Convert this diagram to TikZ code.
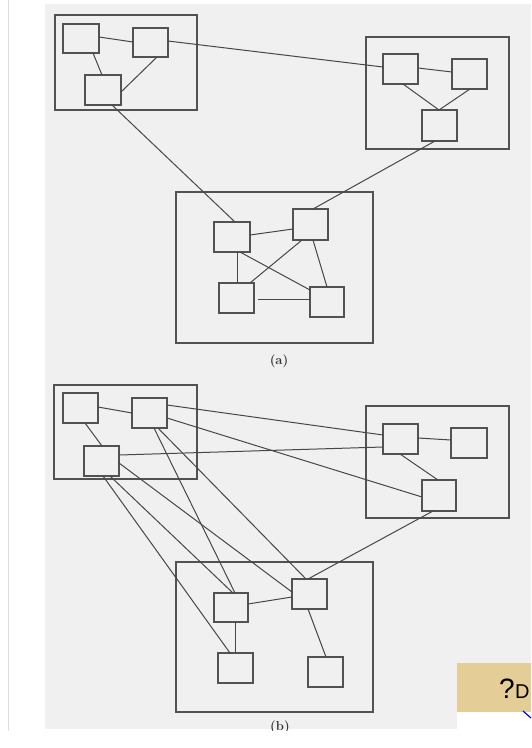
\documentclass[tikz,border=0pt]{standalone}
\usepackage{fontspec}
\newfontfamily\uisans{Liberation Sans}
\definecolor{pagegray}{RGB}{240,240,240}
\definecolor{tanpatch}{RGB}{228,205,150}
\begin{document}
\begin{tikzpicture}[x=1pt,y=-1pt,
  box/.style={draw=black!68,line width=1.2pt,rectangle,inner sep=0pt,outer sep=0pt},
  link/.style={draw=black!72,line width=1pt},
  figlabel/.style={font=\fontsize{13}{15}\selectfont\bfseries,text=black!80}]
\useasboundingbox (0,0) rectangle (531,748);
\fill[pagegray] (45,4) rectangle (531,729);
\draw[black!13,line width=1pt] (8,0) -- (8,748);

% ---------- (a) ----------
\node[box,minimum width=142pt,minimum height=95pt] (A) at (126,62.5) {};
\node[box,minimum width=36pt,minimum height=29pt] (a1) at (81,38.5) {};
\node[box,minimum width=35pt,minimum height=29pt] (a2) at (150.5,42.5) {};
\node[box,minimum width=36pt,minimum height=30pt] (a3) at (103,90) {};

\node[box,minimum width=143pt,minimum height=112pt] (B) at (437.5,93) {};
\node[box,minimum width=35pt,minimum height=30pt] (b1) at (400.5,69) {};
\node[box,minimum width=35pt,minimum height=30pt] (b2) at (469.5,74) {};
\node[box,minimum width=35pt,minimum height=31pt] (b3) at (439.5,125.5) {};

\node[box,minimum width=197pt,minimum height=151pt] (C) at (274.5,267.5) {};
\node[box,minimum width=36pt,minimum height=30pt] (c1) at (232,237) {};
\node[box,minimum width=35pt,minimum height=31pt] (c2) at (310.5,224.5) {};
\node[box,minimum width=35pt,minimum height=30pt] (c3) at (236.5,298) {};
\node[box,minimum width=34pt,minimum height=30pt] (c4) at (327,302) {};
\node[figlabel] (la) at (279,361) {(a)};

\draw[link] ([xshift=36pt,yshift=-13pt]a1.north west) -- ([yshift=-14pt]a2.north west);
\draw[link] ([xshift=30pt,yshift=-29pt]a1.north west) -- ([xshift=17pt]a3.north west);
\draw[link] ([xshift=24pt,yshift=-29pt]a2.north west) -- ([xshift=36pt,yshift=-17pt]a3.north west);
\draw[link] ([xshift=35pt,yshift=-13pt]a2.north west) -- ([yshift=-13pt]b1.north west);
\draw[link] ([xshift=35pt,yshift=-14pt]b1.north west) -- ([yshift=-13pt]b2.north west);
\draw[link] ([xshift=20pt,yshift=-30pt]b1.north west) -- ([xshift=17pt]b3.north west);
\draw[link] ([xshift=18pt,yshift=-30pt]b2.north west) -- ([xshift=17pt]b3.north west);
\draw[link] ([xshift=13pt,yshift=-31pt]b3.north west) -- ([xshift=20pt]c2.north west);
\draw[link] ([xshift=27pt,yshift=-30pt]a3.north west) -- ([xshift=21pt]c1.north west);
\draw[link] ([xshift=36pt,yshift=-13pt]c1.north west) -- ([yshift=-20pt]c2.north west);
\draw[link] ([xshift=23pt,yshift=-30pt]c1.north west) -- ([xshift=18pt]c3.north west);
\draw[link] ([xshift=26pt,yshift=-30pt]c1.north west) -- ([yshift=-3pt]c4.north west);
\draw[link] ([xshift=31pt]c3.north west) -- ([xshift=9pt,yshift=-31pt]c2.north west);
\draw[link] ([xshift=20pt,yshift=-31pt]c2.north west) -- ([xshift=17pt]c4.north west);
\draw[link] ([xshift=39pt,yshift=-16pt]c3.north west) -- ([yshift=-12pt]c4.north west);

% ---------- (b) ----------
\node[box,minimum width=143pt,minimum height=94pt] (D) at (125.5,432) {};
\node[box,minimum width=35pt,minimum height=30pt] (d1) at (80.5,408) {};
\node[box,minimum width=35pt,minimum height=30pt] (d2) at (149.5,413) {};
\node[box,minimum width=35pt,minimum height=30pt] (d3) at (101.5,461) {};

\node[box,minimum width=143pt,minimum height=112pt] (E) at (437.5,462) {};
\node[box,minimum width=35pt,minimum height=30pt] (e1) at (400.5,439) {};
\node[box,minimum width=36pt,minimum height=30pt] (e2) at (469,443) {};
\node[box,minimum width=34pt,minimum height=31pt] (e3) at (439,495.5) {};

\node[box,minimum width=197pt,minimum height=150pt] (F) at (274.5,637) {};
\node[box,minimum width=34pt,minimum height=29pt] (f1) at (231,607.5) {};
\node[box,minimum width=35pt,minimum height=30pt] (f2) at (309.5,594) {};
\node[box,minimum width=35pt,minimum height=30pt] (f3) at (235.5,668) {};
\node[box,minimum width=35pt,minimum height=30pt] (f4) at (325.5,672) {};
\node[figlabel] (lb) at (280,727) {(b)};

\draw[link] ([xshift=35pt,yshift=-14pt]d1.north west) -- ([yshift=-15pt]d2.north west);
\draw[link] ([xshift=22pt,yshift=-30pt]d1.north west) -- ([xshift=18pt]d3.north west);
\draw[link] ([xshift=35pt,yshift=-7pt]d2.north west) -- ([yshift=-11pt]e1.north west);
\draw[link] ([xshift=35pt,yshift=-20pt]d2.north west) -- ([yshift=-17pt]e3.north west);
\draw[link] ([xshift=35pt,yshift=-9pt]d3.north west) -- ([yshift=-23pt]e1.north west);
\draw[link] ([xshift=35pt,yshift=-14pt]e1.north west) -- ([yshift=-12pt]e2.north west);
\draw[link] ([xshift=17pt,yshift=-30pt]e1.north west) -- ([xshift=16pt]e3.north west);
\draw[link] ([xshift=11pt,yshift=-31pt]e3.north west) -- ([xshift=16pt]f2.north west);
\draw[link] ([xshift=19pt,yshift=-30pt]d3.north west) -- ([xshift=12pt]f3.north west);
\draw[link] ([xshift=26pt,yshift=-30pt]d3.north west) -- ([xshift=19pt]f1.north west);
\draw[link] ([xshift=22pt,yshift=-30pt]d2.north west) -- ([xshift=21pt]f1.north west);
\draw[link] ([xshift=35pt,yshift=-17pt]d3.north west) -- ([yshift=-13pt]f2.north west);
\draw[link] ([xshift=26pt,yshift=-30pt]d2.north west) -- ([xshift=14pt]f2.north west);
\draw[link] ([xshift=34pt,yshift=-11pt]f1.north west) -- ([yshift=-18pt]f2.north west);
\draw[link] ([xshift=21pt,yshift=-29pt]f1.north west) -- ([xshift=17pt]f3.north west);
\draw[link] ([xshift=16pt,yshift=-30pt]f2.north west) -- ([xshift=18pt]f4.north west);

% bottom edge of the scan
\fill[white] (0,730.5) rectangle (457,748);
\fill[white] (457,712) rectangle (531,748);

% help patch at the lower right
\fill[tanpatch] (457,663) rectangle (531,712);
\node[anchor=base west,inner sep=0pt,font=\uisans\fontsize{28}{30}\selectfont] (q) at (499,698) {?};
\node[anchor=base west,inner sep=0pt,font=\uisans\fontsize{20}{22}\selectfont] (dd) at (515,698) {D};
\draw[blue,line width=1.2pt] (523,711) -- (531,718);
\end{tikzpicture}
\end{document}
